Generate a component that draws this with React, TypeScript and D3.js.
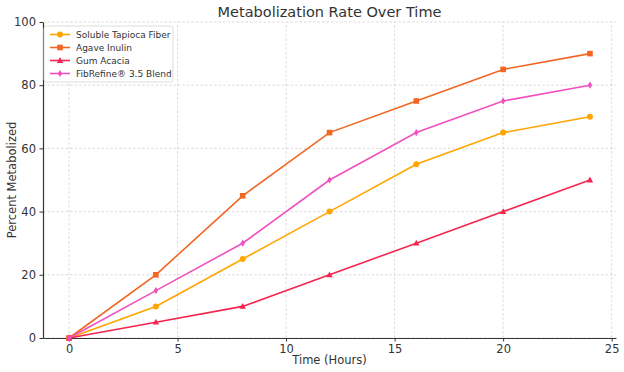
import React, { useEffect, useRef } from 'react';
import * as d3 from 'd3';

const hours = [0, 4, 8, 12, 16, 20, 24];
const tapioca = [0, 10, 25, 40, 55, 65, 70];
const agave = [0, 20, 45, 65, 75, 85, 90];
const gumAcacia = [0, 5, 10, 20, 30, 40, 50];
const fibRefine = [0, 15, 30, 50, 65, 75, 80];
const xTicks = [0, 5, 10, 15, 20, 25];
const yTicks = [0, 20, 40, 60, 80, 100];

const series = [
  { name: 'Soluble Tapioca Fiber', values: tapioca, color: '#ffa500', marker: 'circle' },
  { name: 'Agave Inulin', values: agave, color: '#f26522', marker: 'square' },
  { name: 'Gum Acacia', values: gumAcacia, color: '#f5254f', marker: 'triangle' },
  { name: 'FibRefine® 3.5 Blend', values: fibRefine, color: '#f24fbf', marker: 'diamond' },
];

const FONT = 'DejaVu Sans, sans-serif';

const App: React.FC = () => {
  const ref = useRef<SVGSVGElement | null>(null);

  useEffect(() => {
    if (!ref.current) return;
    const root = d3.select(ref.current);
    root.selectAll('*').remove();

    const width = 624;
    const height = 372;
    const margin = { top: 22, right: 8, bottom: 34, left: 43 };

    const x = d3.scaleLinear().domain([-1.2, 25.2]).range([margin.left, width - margin.right]);
    const y = d3.scaleLinear().domain([0, 100]).range([height - margin.bottom, margin.top]);

    root.append('rect').attr('width', width).attr('height', height).attr('fill', '#fff');

    // grid
    root
      .selectAll('.x-grid')
      .data(xTicks)
      .enter()
      .append('line')
      .attr('x1', (d) => x(d))
      .attr('x2', (d) => x(d))
      .attr('y1', y(0))
      .attr('y2', y(100))
      .attr('stroke', '#ccc')
      .attr('stroke-width', 0.7)
      .attr('stroke-dasharray', '2.5,2');
    root
      .selectAll('.y-grid')
      .data(yTicks)
      .enter()
      .append('line')
      .attr('x1', x(-1.2))
      .attr('x2', x(25.2))
      .attr('y1', (d) => y(d))
      .attr('y2', (d) => y(d))
      .attr('stroke', '#ccc')
      .attr('stroke-width', 0.7)
      .attr('stroke-dasharray', '2.5,2');

    // axes
    const xAxis = d3.axisBottom(x).tickValues(xTicks).tickSize(3.5).tickSizeOuter(0).tickPadding(3);
    const yAxis = d3.axisLeft(y).tickValues(yTicks).tickSize(3.5).tickSizeOuter(0).tickPadding(3.5);

    const gx = root.append('g').attr('transform', `translate(0,${y(0)})`).call(xAxis);
    const gy = root.append('g').attr('transform', `translate(${x(-1.2)},0)`).call(yAxis);
    [gx, gy].forEach((g) => {
      g.select('.domain').attr('stroke', '#333').attr('stroke-width', 1.2);
      g.selectAll('.tick line').attr('stroke', '#333');
      g.selectAll('.tick text').attr('fill', '#333').style('font-family', FONT).style('font-size', '11.5px');
    });

    const line = d3
      .line<number>()
      .x((_, i) => x(hours[i]))
      .y((d) => y(d));

    const drawMarker = (g: any, kind: string, color: string, cx: number, cy: number) => {
      if (kind === 'circle') {
        g.append('circle').attr('cx', cx).attr('cy', cy).attr('r', 3).attr('fill', color);
      } else if (kind === 'square') {
        g.append('rect').attr('x', cx - 2.8).attr('y', cy - 2.8).attr('width', 5.6).attr('height', 5.6).attr('fill', color);
      } else if (kind === 'triangle') {
        g.append('path')
          .attr('d', `M${cx},${cy - 3.4}L${cx + 3.2},${cy + 2.4}L${cx - 3.2},${cy + 2.4}Z`)
          .attr('fill', color);
      } else {
        g.append('path')
          .attr('d', `M${cx},${cy - 3.6}L${cx + 2.2},${cy}L${cx},${cy + 3.6}L${cx - 2.2},${cy}Z`)
          .attr('fill', color);
      }
    };

    series.forEach((s) => {
      root
        .append('path')
        .datum(s.values)
        .attr('d', line)
        .attr('fill', 'none')
        .attr('stroke', s.color)
        .attr('stroke-width', 1.6);
      const g = root.append('g');
      s.values.forEach((v, i) => drawMarker(g, s.marker, s.color, x(hours[i]), y(v)));
    });

    // title and labels
    root
      .append('text')
      .attr('x', (x(-1.2) + x(25.2)) / 2)
      .attr('y', 17)
      .attr('text-anchor', 'middle')
      .attr('fill', '#333')
      .style('font-family', FONT)
      .style('font-size', '14.5px')
      .text('Metabolization Rate Over Time');
    root
      .append('text')
      .attr('x', (x(-1.2) + x(25.2)) / 2)
      .attr('y', 364)
      .attr('text-anchor', 'middle')
      .attr('fill', '#333')
      .style('font-family', FONT)
      .style('font-size', '11.5px')
      .text('Time (Hours)');
    root
      .append('text')
      .attr('transform', `translate(16,${(y(0) + y(100)) / 2}) rotate(-90)`)
      .attr('text-anchor', 'middle')
      .attr('fill', '#333')
      .style('font-family', FONT)
      .style('font-size', '11.5px')
      .text('Percent Metabolized');

    // legend
    const lg = root.append('g').attr('transform', `translate(${x(-1.2) + 1},${y(100) + 4})`);
    lg.append('rect')
      .attr('width', 129)
      .attr('height', 56)
      .attr('rx', 2.5)
      .attr('fill', '#fff')
      .attr('fill-opacity', 0.85)
      .attr('stroke', '#ddd');
    series.forEach((s, i) => {
      const cy = 8.5 + i * 13;
      lg.append('line').attr('x1', 6).attr('x2', 26).attr('y1', cy).attr('y2', cy).attr('stroke', s.color).attr('stroke-width', 1.6);
      drawMarker(lg, s.marker, s.color, 16, cy);
      lg.append('text')
        .attr('x', 32)
        .attr('y', cy + 3.3)
        .attr('fill', '#333')
        .style('font-family', FONT)
        .style('font-size', '9px')
        .text(s.name);
    });
  }, []);

  return <svg ref={ref} width={624} height={372} style={{ position: 'absolute', left: 0, top: 0 }}></svg>;
};

export default App;
